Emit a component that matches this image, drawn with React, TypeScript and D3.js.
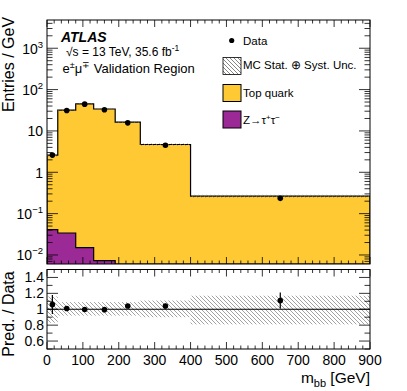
import React from 'react'
import * as d3 from 'd3'

const [W, H] = [407, 391]
const FONT = 'Liberation Sans, Arial, Helvetica, sans-serif'
const frame = { left: 47, right: 370, mainTop: 20, mainBottom: 264, ratioTop: 269.5, ratioBottom: 349 }

// m_bb bins (GeV) and per-bin contents (entries / GeV)
const binEdges = [0, 30, 80, 130, 190, 260, 400, 900]
const topQuark = [2.55, 31.9, 45, 33.9, 16.3, 4.7, 0.266]
const zTauTau = [0.041, 0.034, 0.015, 0.0073, 0, 0, 0]
const mcUncRel = [0.06, 0.04, 0.04, 0.04, 0.04, 0.05, 0.07]
const dataVals = [2.6, 31.3, 44.5, 32.5, 15.7, 4.5, 0.234]
const dataErr = [0.3, 1.0, 1.3, 0.95, 0.6, 0.2, 0.022]

// ratio panel
const ratioVals = [1.06, 1.01, 0.997, 0.995, 1.04, 1.04, 1.11]
const ratioErr = [0.12, 0.02, 0.02, 0.02, 0.025, 0.03, 0.1]
const bandLo = [0.83, 0.92, 0.92, 0.92, 0.92, 0.9, 0.81]
const bandHi = [1.16, 1.09, 1.09, 1.09, 1.09, 1.11, 1.17]

const xMajorTicks = [0, 100, 200, 300, 400, 500, 600, 700, 800, 900]
const ratioTickLabels = [0.6, 0.8, 1, 1.2, 1.4]

const x = d3.scaleLinear().domain([0, 900]).range([frame.left, frame.right])
const yMain = d3.scaleLog().domain([0.00605, 4820]).range([frame.mainBottom, frame.mainTop])
const yRatio = d3.scaleLinear().domain([0.5, 1.5]).range([frame.ratioBottom, frame.ratioTop])

const total = topQuark.map((t, i) => t + zTauTau[i])
const yv = (v: number) => (v > 0 ? Math.min(yMain(v), frame.mainBottom) : frame.mainBottom)

function stepPoints(vals: number[]): [number, number][] {
  const pts: [number, number][] = []
  vals.forEach((v, i) => {
    pts.push([x(binEdges[i]), yv(v)])
    pts.push([x(binEdges[i + 1]), yv(v)])
  })
  return pts
}

const areaGen = d3.area<[number, number]>().x(d => d[0]).y0(frame.mainBottom).y1(d => d[1])
const lineGen = d3.line<[number, number]>()

function outline(vals: number[]) {
  const pts = stepPoints(vals)
  return lineGen([[pts[0][0], frame.mainBottom], ...pts, [pts[pts.length - 1][0], frame.mainBottom]])
}

function superscriptLabel(v: number) {
  const e = Math.round(Math.log10(v))
  if (e === 0) return <tspan>1</tspan>
  if (e === 1) return <tspan>10</tspan>
  return (
    <>
      <tspan>10</tspan>
      <tspan dy={-6} fontSize={9.5}>{e < 0 ? '\u2212' + Math.abs(e) : e}</tspan>
    </>
  )
}

export default function App() {
  const centers = binEdges.slice(0, -1).map((e, i) => (e + binEdges[i + 1]) / 2)
  const xMinor = d3.range(0, 901, 20)
  const yMainTicks = yMain.ticks().filter(v => v >= 0.00605 && v <= 4820)
  const isMajor = (v: number) => Math.abs(Math.log10(v) - Math.round(Math.log10(v))) < 1e-6
  const ratioMinor = d3.range(0.5, 1.501, 0.1)

  return (
    <svg width={W} height={H} style={{ position: 'absolute', left: 0, top: 0, fontFamily: FONT }}>
      <defs>
        <pattern id="hatch" width="4" height="4" patternUnits="userSpaceOnUse">
          <path d="M-1,-1 L5,5 M-1,3 L1,5 M3,-1 L5,1" stroke="#666" strokeWidth="0.8" />
        </pattern>
        <pattern id="hatchLight" width="4" height="4" patternUnits="userSpaceOnUse">
          <path d="M-1,-1 L5,5 M-1,3 L1,5 M3,-1 L5,1" stroke="#8a8a8a" strokeWidth="0.8" />
        </pattern>
        <clipPath id="mainClip">
          <rect x={frame.left} y={frame.mainTop} width={frame.right - frame.left} height={frame.mainBottom - frame.mainTop} />
        </clipPath>
      </defs>
      <rect x={0} y={0} width={W} height={H} fill="white" />

      {/* main panel */}
      <g clipPath="url(#mainClip)">
        <path d={areaGen(stepPoints(total)) ?? ''} fill="#fec932" />
        <path d={outline(total) ?? ''} fill="none" stroke="black" strokeWidth={1.2} />
        <path d={areaGen(stepPoints(zTauTau)) ?? ''} fill="#9b2a96" />
        <path d={outline(zTauTau) ?? ''} fill="none" stroke="black" strokeWidth={1.2} />
        {total.map((t, i) => (
          <rect key={i} x={x(binEdges[i])} width={x(binEdges[i + 1]) - x(binEdges[i])}
            y={yMain(t * (1 + mcUncRel[i]))} height={yMain(t * (1 - mcUncRel[i])) - yMain(t * (1 + mcUncRel[i]))}
            fill="url(#hatch)" />
        ))}
        {dataVals.map((d, i) => (
          <g key={i}>
            <line x1={x(centers[i])} x2={x(centers[i])} y1={yMain(d + dataErr[i])} y2={yMain(d - dataErr[i])} stroke="black" strokeWidth={1.2} />
            <circle cx={x(centers[i])} cy={yMain(d)} r={2.8} fill="black" />
          </g>
        ))}
      </g>

      {/* main ticks */}
      {xMinor.map(v => {
        const len = v % 100 === 0 ? 7 : 3.5
        return (
          <g key={v} stroke="black" strokeWidth={0.8}>
            <line x1={x(v)} x2={x(v)} y1={frame.mainBottom} y2={frame.mainBottom - len} />
            <line x1={x(v)} x2={x(v)} y1={frame.mainTop} y2={frame.mainTop + len} />
            <line x1={x(v)} x2={x(v)} y1={frame.ratioBottom} y2={frame.ratioBottom - len} />
            <line x1={x(v)} x2={x(v)} y1={frame.ratioTop} y2={frame.ratioTop + len} />
          </g>
        )
      })}
      {yMainTicks.map(v => {
        const len = isMajor(v) ? 11 : 5.5
        return (
          <g key={v} stroke="black" strokeWidth={0.8}>
            <line x1={frame.left} x2={frame.left + len} y1={yMain(v)} y2={yMain(v)} />
            <line x1={frame.right} x2={frame.right - len} y1={yMain(v)} y2={yMain(v)} />
          </g>
        )
      })}
      {yMainTicks.filter(isMajor).map(v => (
        <text key={v} x={43} y={yMain(v) + 5.5} fontSize={14} textAnchor="end">{superscriptLabel(v)}</text>
      ))}
      <rect x={frame.left} y={frame.mainTop} width={frame.right - frame.left} height={frame.mainBottom - frame.mainTop}
        fill="none" stroke="black" strokeWidth={1} />

      {/* ratio panel */}
      {bandLo.map((lo, i) => (
        <rect key={i} x={x(binEdges[i])} width={x(binEdges[i + 1]) - x(binEdges[i])}
          y={yRatio(bandHi[i])} height={yRatio(lo) - yRatio(bandHi[i])} fill="url(#hatchLight)" />
      ))}
      <line x1={frame.left} x2={frame.right} y1={yRatio(1)} y2={yRatio(1)} stroke="black" strokeWidth={1.2} />
      {ratioVals.map((r, i) => (
        <g key={i}>
          <line x1={x(centers[i])} x2={x(centers[i])} y1={yRatio(r + ratioErr[i])} y2={yRatio(r - ratioErr[i])} stroke="black" strokeWidth={1.2} />
          <circle cx={x(centers[i])} cy={yRatio(r)} r={2.8} fill="black" />
        </g>
      ))}
      {ratioMinor.map(v => {
        const major = ratioTickLabels.some(t => Math.abs(t - v) < 1e-6)
        const len = major ? 11 : 5.5
        return (
          <g key={v} stroke="black" strokeWidth={0.8}>
            <line x1={frame.left} x2={frame.left + len} y1={yRatio(v)} y2={yRatio(v)} />
            <line x1={frame.right} x2={frame.right - len} y1={yRatio(v)} y2={yRatio(v)} />
          </g>
        )
      })}
      {ratioTickLabels.map(v => (
        <text key={v} x={44} y={yRatio(v) + 5} fontSize={14} textAnchor="end">{String(v)}</text>
      ))}
      <rect x={frame.left} y={frame.ratioTop} width={frame.right - frame.left} height={frame.ratioBottom - frame.ratioTop}
        fill="none" stroke="black" strokeWidth={1} />
      {xMajorTicks.map(v => (
        <text key={v} x={x(v)} y={frame.ratioBottom + 16} fontSize={14} textAnchor="middle">{v}</text>
      ))}

      {/* axis titles */}
      <text x={370} y={383} fontSize={15.5} textAnchor="end">
        m<tspan dy={4} fontSize={11}>bb</tspan><tspan dy={-4}> [GeV]</tspan>
      </text>
      <text transform="translate(14,64.5) rotate(-90)" fontSize={16} textAnchor="middle">Entries / GeV</text>
      <text transform="translate(14,314) rotate(-90)" fontSize={16} textAnchor="middle">Pred. / Data</text>

      {/* labels */}
      <text x={61} y={42} fontSize={14} fontWeight="bold" fontStyle="italic">ATLAS</text>
      <text x={66} y={55.5} fontSize={12}>
        {'\u221As = 13 TeV, 35.6 fb'}<tspan dy={-5} fontSize={8.5}>-1</tspan>
      </text>
      <text x={62.5} y={72.5} fontSize={13}>
        e<tspan dy={-5} fontSize={9}>±</tspan><tspan dy={5}>μ</tspan><tspan dy={-5} fontSize={9}>∓</tspan><tspan dy={5}> Validation Region</tspan>
      </text>

      {/* legend */}
      <circle cx={231.7} cy={40.5} r={2.6} fill="black" />
      <text x={243} y={44.5} fontSize={11.5}>Data</text>
      <rect x={223} y={57.5} width={18} height={17} fill="url(#hatch)" stroke="black" strokeWidth={0.8} />
      <text x={243} y={69} fontSize={11.5}>MC Stat. ⊕ Syst. Unc.</text>
      <rect x={223} y={84.5} width={18} height={17} fill="#fec932" stroke="black" strokeWidth={1} />
      <text x={243} y={96.5} fontSize={11.5}>Top quark</text>
      <rect x={223} y={111} width={18} height={17} fill="#9b2a96" stroke="black" strokeWidth={1} />
      <text x={243} y={123.5} fontSize={11.5}>
        Z→τ<tspan dy={-4} fontSize={8}>+</tspan><tspan dy={4}>τ</tspan><tspan dy={-4} fontSize={8}>−</tspan>
      </text>
    </svg>
  )
}
